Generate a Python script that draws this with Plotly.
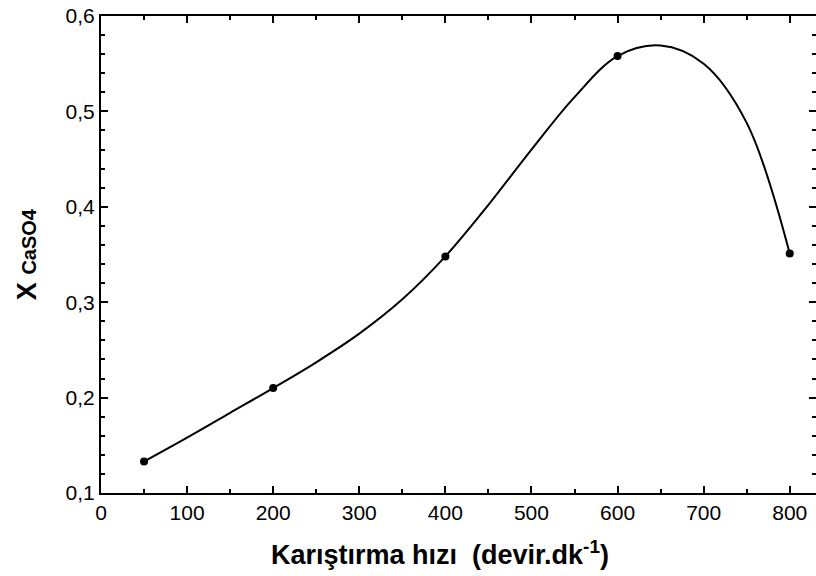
import plotly.graph_objects as go

# Measured conversion vs. stirring speed
speed = [50, 200, 400, 600, 800]
conversion = [0.133, 0.210, 0.348, 0.558, 0.351]

# Smoothed fit curve through the measurements (every 50 rpm)
fit_speed = [50, 100, 150, 200, 250, 300, 350, 400, 450, 500, 550, 600,
             650, 700, 750, 800]
fit_conv = [0.133, 0.158, 0.184, 0.210, 0.237, 0.267, 0.303, 0.348, 0.402,
            0.460, 0.515, 0.558, 0.569, 0.550, 0.488, 0.351]

x_ticks = [0, 100, 200, 300, 400, 500, 600, 700, 800]
y_ticks = [0.1, 0.2, 0.3, 0.4, 0.5, 0.6]

FONT = "Liberation Sans, Arial, sans-serif"

fig = go.Figure()
fig.add_trace(go.Scatter(
    x=fit_speed, y=fit_conv, mode="lines",
    line=dict(color="black", width=2, shape="spline", smoothing=1.0),
    hoverinfo="skip", showlegend=False))
fig.add_trace(go.Scatter(
    x=speed, y=conversion, mode="markers",
    marker=dict(color="black", size=8), showlegend=False))
# invisible copy on the right-hand axis so its ticks are drawn
fig.add_trace(go.Scatter(
    x=speed, y=conversion, yaxis="y2", mode="markers",
    marker=dict(opacity=0), hoverinfo="skip", showlegend=False))

fig.update_layout(
    width=816, height=576,
    margin=dict(l=101, r=0, t=16, b=83),
    paper_bgcolor="white", plot_bgcolor="white",
    separators=",.",
    font=dict(family=FONT, color="black", size=21),
    xaxis=dict(
        range=[0, 830.5], tickvals=x_ticks, ticks="inside", ticklen=7,
        tickwidth=1.5, tickcolor="black", showline=True, linewidth=2,
        linecolor="black", mirror="ticks", showgrid=False, zeroline=False,
        tickfont=dict(size=21, family=FONT),
        minor=dict(dtick=50, ticks="inside", ticklen=4, tickwidth=1.5,
                   tickcolor="black", showgrid=False)),
    yaxis=dict(
        range=[0.1, 0.6], tickvals=y_ticks, tickformat=".1f",
        ticks="inside", ticklen=7, tickwidth=1.5, tickcolor="black",
        showline=True, linewidth=2, linecolor="black", showgrid=False,
        zeroline=False, tickfont=dict(size=21, family=FONT),
        minor=dict(dtick=0.02, ticks="inside", ticklen=4, tickwidth=1.5,
                   tickcolor="black", showgrid=False)),
    yaxis2=dict(
        overlaying="y", side="right", range=[0.1, 0.6], tickvals=y_ticks,
        ticks="inside", ticklen=7, tickwidth=1.5, tickcolor="black",
        showticklabels=False, showline=False, showgrid=False, zeroline=False,
        minor=dict(dtick=0.02, ticks="inside", ticklen=4, tickwidth=1.5,
                   tickcolor="black", showgrid=False)),
    annotations=[
        dict(text="<b>Karıştırma hızı  (devir.dk<sup>-1</sup>)</b>",
             xref="paper", yref="paper", x=0.474, y=-0.126,
             xanchor="center", yanchor="middle", showarrow=False,
             font=dict(size=27, family=FONT, color="black")),
        dict(text="<b>X <span style='font-size:20px'>CaSO4</span></b>",
             xref="paper", yref="paper", x=-0.104, y=0.50,
             xanchor="center", yanchor="middle", textangle=-90,
             showarrow=False,
             font=dict(size=27, family=FONT, color="black")),
    ],
)

fig.write_html("out.html")
